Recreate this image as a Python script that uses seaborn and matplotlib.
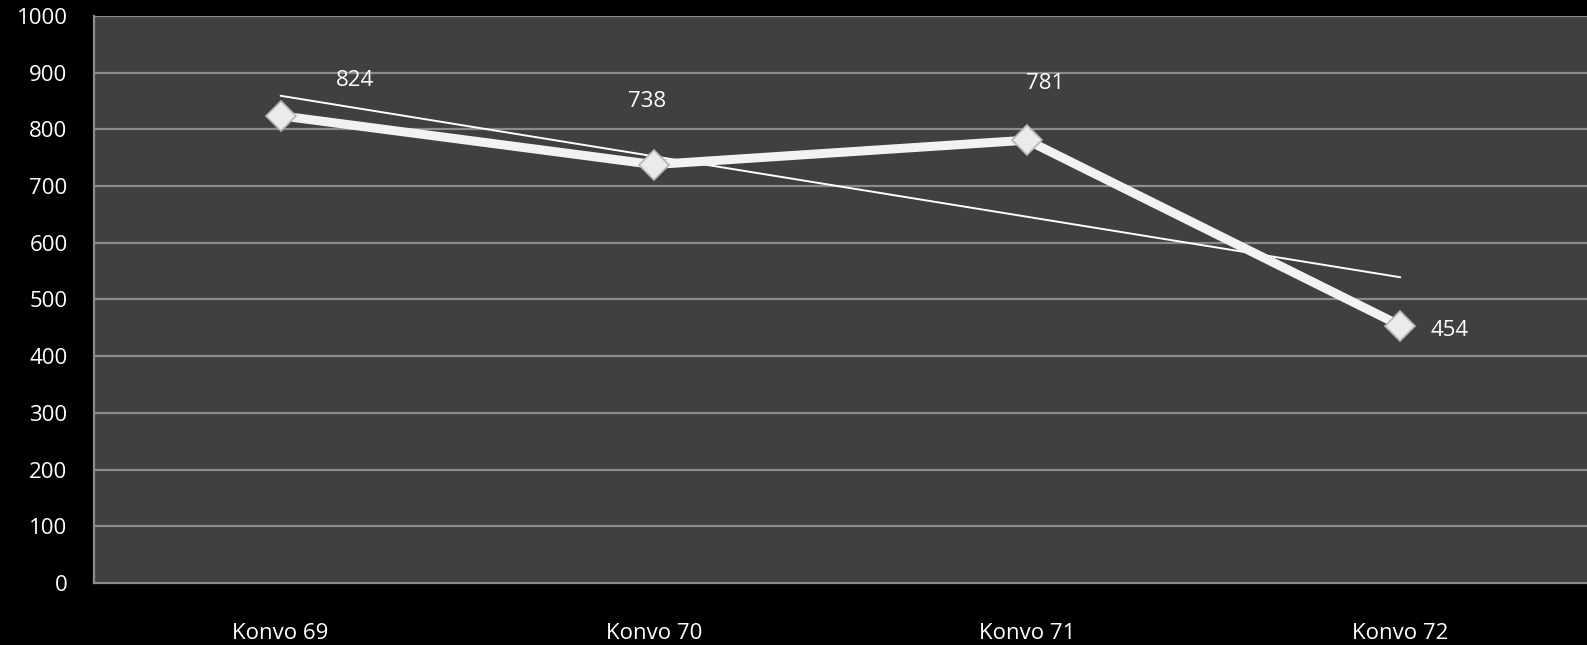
import matplotlib
matplotlib.use("Agg")
import matplotlib.pyplot as plt
import seaborn as sns
import numpy as np
import pandas as pd

categories = ["Konvo 69", "Konvo 70", "Konvo 71", "Konvo 72"]
values = [824, 738, 781, 454]
y_ticks = [0, 100, 200, 300, 400, 500, 600, 700, 800, 900, 1000]

# label offsets in pixels (dx, dy) relative to each point
label_offsets = [(74, 35), (-7, 63), (18, 57), (49, -5)]

sns.set_theme(style="dark")
plt.rcParams["font.family"] = ["Open Sans", "DejaVu Sans"]

df = pd.DataFrame({"cat": categories, "val": values, "pos": np.arange(len(categories))})

fig = plt.figure(figsize=(15.87, 6.45), dpi=100, facecolor="black")
ax = fig.add_axes([94 / 1587, 1 - 583 / 645, 1 - 94 / 1587, (583 - 16) / 645])
ax.set_facecolor("#404040")

# horizontal gridlines
for t in y_ticks[1:]:
    ax.axhline(t, color="#8c8c8c", lw=1.6, zorder=1)

# linear trend line
sns.regplot(data=df, x="pos", y="val", ci=None, scatter=False, truncate=True,
            line_kws=dict(color="white", lw=1.4, zorder=3), ax=ax)

# main series
sns.lineplot(data=df, x="pos", y="val", color="#f2f2f2", lw=6.5, sort=False,
             marker="D", markersize=15, markerfacecolor="#ebebeb",
             markeredgecolor="#b5b5b5", markeredgewidth=1.2, zorder=4, ax=ax)

fs = 16
for x, v, (dx, dy) in zip(df["pos"], values, label_offsets):
    ax.annotate(str(v), (x, v), xytext=(dx * 0.72, dy * 0.72), textcoords="offset points",
                ha="center", va="center", color="white", fontsize=fs, zorder=5)

ax.set_xlim(-0.5, len(categories) - 0.5)
ax.set_ylim(0, 1000)
ax.set_xticks(df["pos"])
ax.set_xticklabels(categories)
ax.set_yticks(y_ticks)
ax.set_yticklabels([str(t) for t in y_ticks])
ax.set_xlabel("")
ax.set_ylabel("")
ax.tick_params(axis="both", colors="white", labelsize=fs, length=0)
ax.tick_params(axis="y", pad=19)
ax.tick_params(axis="x", pad=29)
for side in ["top", "right"]:
    ax.spines[side].set_visible(False)
for side in ["left", "bottom"]:
    ax.spines[side].set_visible(True)
    ax.spines[side].set_color("#8c8c8c")
    ax.spines[side].set_linewidth(1.6)
ax.grid(False)

fig.savefig("out.png", dpi=100, facecolor="black")
